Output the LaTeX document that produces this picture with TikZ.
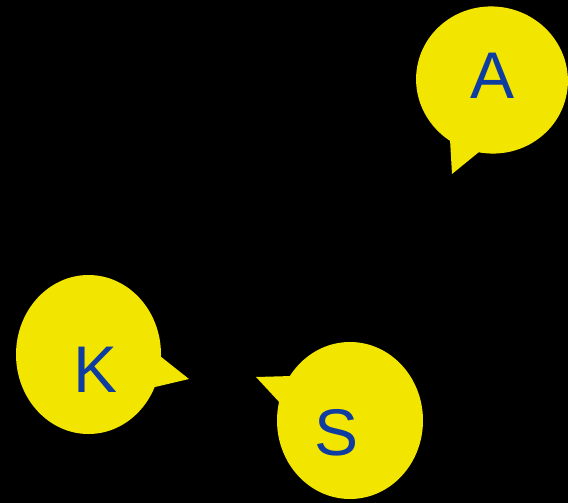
\documentclass[tikz,border=0pt]{standalone}
\usepackage{fontspec}
\setmainfont{Liberation Sans}
\usetikzlibrary{shapes.geometric}
\definecolor{bubble}{RGB}{242,230,0}
\definecolor{letter}{RGB}{14,60,160}
\tikzset{
  bub/.style={ellipse, fill=bubble, inner sep=0pt},
  tail/.style={fill=bubble},
  lett/.style={text=letter, font=\fontsize{66}{66}\selectfont, inner sep=0pt}
}
\begin{document}
\begin{tikzpicture}[x=1pt,y=-1pt]
\fill[black] (0,0) rectangle (568,503);
\useasboundingbox (0,0) rectangle (568,503);
% A
\node[bub, minimum width=152pt, minimum height=147pt, rotate=-10] (A) at (492,80) {};
\coordinate (At) at (452,174);
\fill[tail] (450,139) -- (At) -- (479,152) -- cycle;
\node[lett] (Al) at (493,76) {A};
% K
\node[bub, minimum width=145pt, minimum height=159pt] (K) at (88.5,354.5) {};
\coordinate (Kt) at (189,379);
\fill[tail] (160,356) -- (Kt) -- (155,387) -- cycle;
\node[lett] (Kl) at (96,370) {K};
% S
\node[bub, minimum width=146pt, minimum height=157pt] (S) at (350,420.5) {};
\coordinate (St) at (256,377);
\fill[tail] (292,376) -- (St) -- (281,404) -- cycle;
\node[lett] (Sl) at (337,433) {S};
\end{tikzpicture}
\end{document}
